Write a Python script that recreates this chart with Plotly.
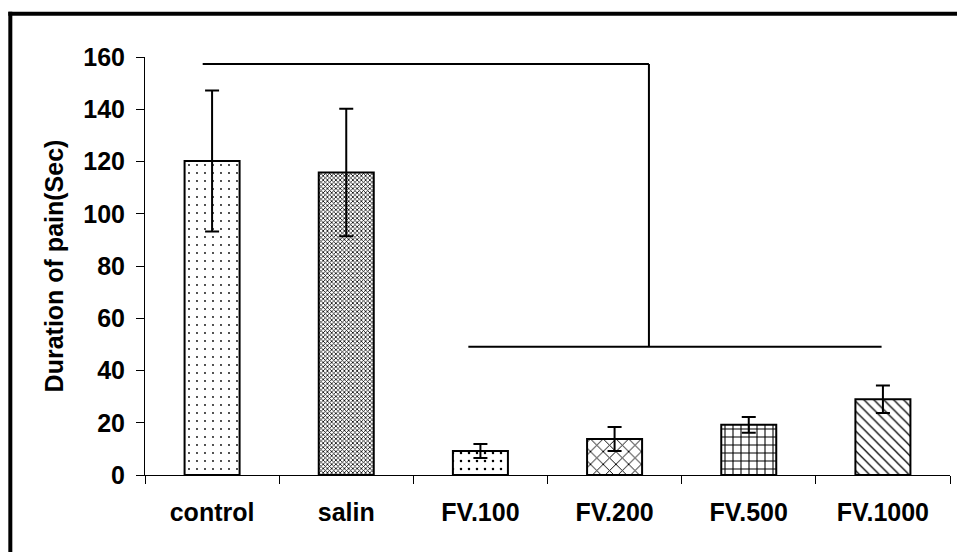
import plotly.graph_objects as go

categories = ["control", "salin", "FV.100", "FV.200", "FV.500", "FV.1000"]
values = [120.2, 115.8, 9.2, 13.8, 19.2, 29.0]
errors = [27.0, 24.4, 2.7, 4.6, 3.0, 5.3]
y_ticks = [0, 20, 40, 60, 80, 100, 120, 140, 160]

pattern_shapes = [".", "x", ".", "x", "+", "\\"]
pattern_sizes = [8, 3, 8, 9, 8, 7]
pattern_solidity = [0.04, 0.45, 0.08, 0.2, 0.25, 0.18]

FONT = "Liberation Sans, Arial, sans-serif"

fig = go.Figure()
fig.add_trace(go.Bar(
    x=categories,
    y=values,
    width=0.41,
    marker=dict(
        color="white",
        line=dict(color="black", width=2),
        pattern=dict(shape=pattern_shapes, size=pattern_sizes,
                     solidity=pattern_solidity, fgcolor="black",
                     bgcolor="white", fillmode="replace"),
    ),
    error_y=dict(type="data", array=errors, visible=True,
                 color="black", thickness=2, width=7),
    showlegend=False,
))

line_style = dict(color="black", width=2)
# significance bracket
fig.add_shape(type="line", xref="x", yref="y", x0=-0.07, x1=3.256, y0=157.3, y1=157.3, line=line_style)
fig.add_shape(type="line", xref="x", yref="y", x0=3.256, x1=3.256, y0=157.3, y1=49.1, line=line_style)
fig.add_shape(type="line", xref="x", yref="y", x0=1.91, x1=4.99, y0=49.1, y1=49.1, line=line_style)
fig.add_annotation(x=1.748, y=165.5, xref="x", yref="y", text="<b>*</b>",
                   showarrow=False, font=dict(size=25, color="black", family=FONT))

# outer frame (top and left edges; the rest runs off the picture)
frame = dict(color="black", width=4)
fig.add_shape(type="line", xref="paper", yref="paper", x0=-0.1698, x1=1.2,
              y0=1.1036, y1=1.1036, line=frame, layer="above")
fig.add_shape(type="line", xref="paper", yref="paper", x0=-0.1673, x1=-0.1673,
              y0=-0.5, y1=1.108, line=frame, layer="above")

fig.update_layout(
    width=957, height=552,
    margin=dict(l=145, r=7, t=57, b=77),
    paper_bgcolor="white", plot_bgcolor="white",
    font=dict(family=FONT, size=25, color="black"),
    xaxis=dict(
        type="category", range=[-0.5, 5.5],
        showline=True, linecolor="black", linewidth=1,
        ticks="outside", tickson="boundaries", ticklen=8, tickcolor="black", tickwidth=1,
        tickfont=dict(size=25, family="Liberation Sans", weight="bold"),
        ticklabelstandoff=15,
        showgrid=False, zeroline=False,
    ),
    yaxis=dict(
        range=[0, 160], tickvals=y_ticks,
        showline=True, linecolor="black", linewidth=1,
        ticks="outside", ticklen=8, tickcolor="black", tickwidth=1,
        tickfont=dict(size=25, family="Liberation Sans", weight="bold"),
        ticklabelstandoff=6,
        showgrid=False, zeroline=False,
        title=dict(text="<b>Duration of pain(Sec)</b>", font=dict(size=25), standoff=12),
    ),
)

fig.write_html(
    "out.html",
    config={"displayModeBar": False},
    post_script="document.body.style.margin='0';document.body.style.overflow='hidden';",
)
